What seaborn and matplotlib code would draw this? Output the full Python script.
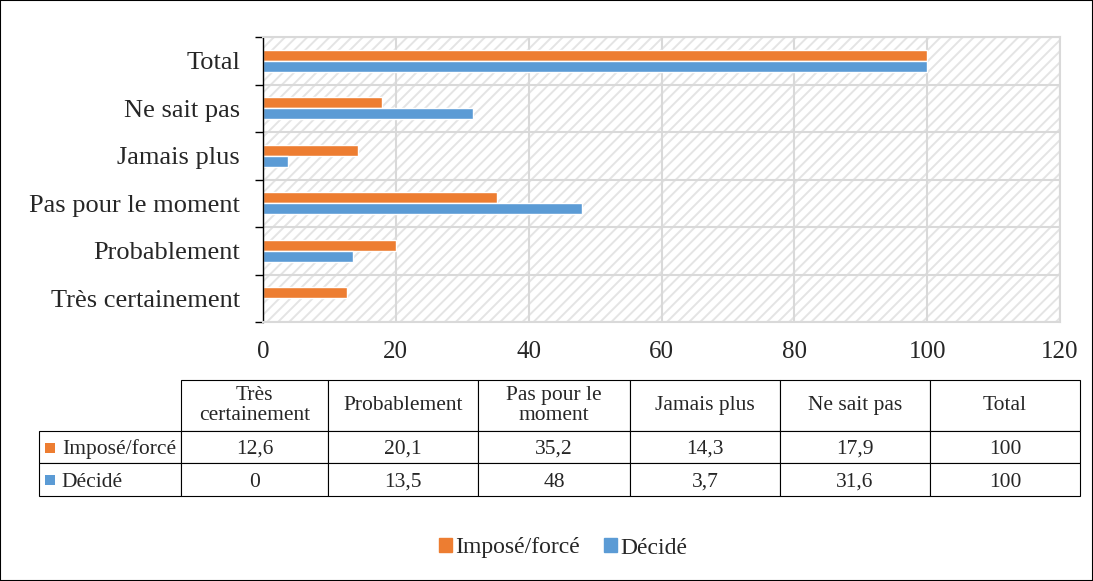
import numpy as np
import pandas as pd
import matplotlib
matplotlib.use("Agg")
import matplotlib.pyplot as plt
from matplotlib.patches import Rectangle
import seaborn as sns

# data
categories = ['Très certainement', 'Probablement', 'Pas pour le moment',
              'Jamais plus', 'Ne sait pas', 'Total']
header_labels = ['Très\ncertainement', 'Probablement', 'Pas pour le\nmoment',
                 'Jamais plus', 'Ne sait pas', 'Total']
series = ['Imposé/forcé', 'Décidé']
impose = [12.6, 20.1, 35.2, 14.3, 17.9, 100]
decide = [0, 13.5, 48, 3.7, 31.6, 100]
impose_txt = ['12,6', '20,1', '35,2', '14,3', '17,9', '100']
decide_txt = ['0', '13,5', '48', '3,7', '31,6', '100']
colors = ['#ED7D31', '#5B9BD5']

sns.set_style("white")
plt.rcParams['font.family'] = ['Liberation Serif', 'DejaVu Serif']
plt.rcParams['hatch.linewidth'] = 1.4
plt.rcParams['hatch.color'] = '#e4e4e4'

df = pd.DataFrame({
    'cat': categories * 2,
    'val': impose + decide,
    'serie': [series[0]] * 6 + [series[1]] * 6,
})
order = categories[::-1]

fig = plt.figure(figsize=(10.93, 5.81), dpi=100)
ax = fig.add_axes([263 / 1093, 1 - 322 / 581, (1060 - 263) / 1093, (322 - 37) / 581])

# hatched plot area background
ax.add_patch(Rectangle((0, 0), 1, 1, transform=ax.transAxes, facecolor='white',
                       edgecolor='#e4e4e4', hatch='///', lw=0, zorder=0))

sns.barplot(data=df, y='cat', x='val', hue='serie', order=order,
            hue_order=series, palette=colors, orient='h', width=0.47,
            saturation=1, legend=False, ax=ax)

ax.set_xlim(0, 120)
ax.set_ylim(5.5, -0.5)
ax.set_xticks(np.arange(0, 121, 20))
ax.set_xlabel('')
ax.set_ylabel('')
ax.set_axisbelow(True)
ax.xaxis.grid(True, color='#d9d9d9', lw=1.5)
ax.set_yticks(np.arange(-0.5, 6, 1), minor=True)
ax.yaxis.grid(True, which='minor', color='#d9d9d9', lw=1.5)
ax.tick_params(axis='y', which='major', length=0, labelsize=19, pad=16.5)
ax.tick_params(axis='y', which='minor', length=6, width=1, color='black', direction='out', left=True)
ax.tick_params(axis='x', length=0, labelsize=18, pad=14)
for s in ['top', 'right', 'bottom']:
    ax.spines[s].set_color('#d9d9d9')
    ax.spines[s].set_linewidth(1.5)
ax.spines['left'].set_color('black')
ax.spines['left'].set_linewidth(1)

# data table below the chart
tax = fig.add_axes([39 / 1093, 1 - 496 / 581, 1041 / 1093, 116 / 581])
tax.axis('off')
cell_text = [[series[0]] + impose_txt, [series[1]] + decide_txt]
tbl = tax.table(cellText=cell_text, colLabels=[''] + header_labels,
                cellLoc='center', bbox=[0, 0, 1, 1])
tbl.auto_set_font_size(False)
tbl.set_fontsize(15.5)
widths = [142, 147, 150, 152, 150, 150, 150]
for (r, c), cell in tbl.get_celld().items():
    cell.set_width(widths[c])
    cell.set_height(51 if r == 0 else 33)
    cell.set_linewidth(0.8)
    cell.set_edgecolor('black')
    txt = cell.get_text()
    txt.set_linespacing(1.05)
    if r > 0:
        txt.set_va('center_baseline')
    if c == 0 and r > 0:
        cell._loc = 'left'
        txt.set_ha('left')
        cell.PAD = 0.16
tbl[0, 0].visible_edges = 'open'
for i, col in enumerate(colors):
    y = (496 - (447.5 if i == 0 else 480)) / 116
    tax.scatter([10.5 / 1041], [y], marker='s', s=48, color=col, linewidths=0,
                transform=tax.transAxes, clip_on=False, zorder=5)

# legend
handles = [Rectangle((0, 0), 1, 1, color=c) for c in colors]
fig.legend(handles, series, loc='center', bbox_to_anchor=(0.515, 1 - 548 / 581),
           ncol=2, frameon=False, fontsize=17, handlelength=0.55, handleheight=0.55,
           handletextpad=0.15, columnspacing=1.0)

# outer border
fig.patches.append(Rectangle((0, 0), 1, 1, transform=fig.transFigure, fill=False,
                             edgecolor='black', lw=1.5))

fig.savefig('out.png', dpi=100)
